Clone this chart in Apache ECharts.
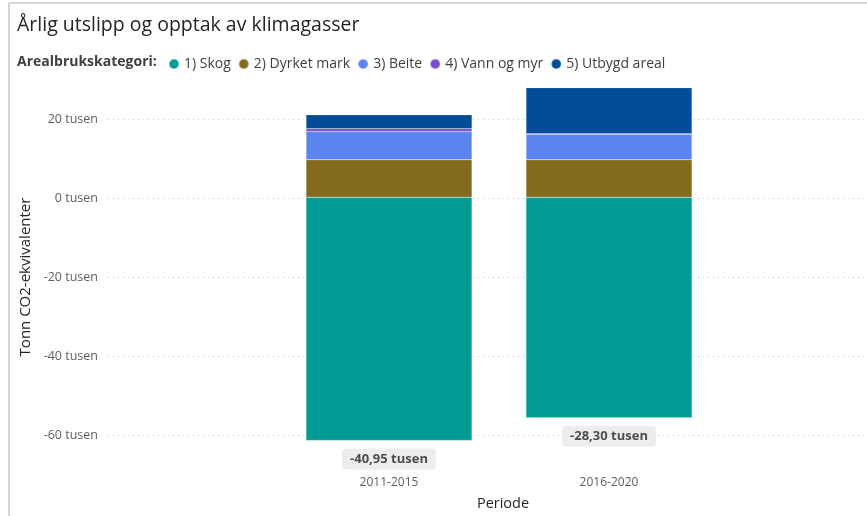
<!DOCTYPE html>
<html>
<head>
<meta charset="utf-8">
<script src="https://cdn.jsdelivr.net/npm/echarts@6/dist/echarts.min.js"></script>
<style>
  html, body { margin: 0; padding: 0; background: #fff; }
  #chart { width: 867px; height: 516px; }
</style>
</head>
<body>
<div id="chart"></div>
<script>
// verdier i tusen tonn CO2-ekvivalenter
var periods = ['2011-2015', '2016-2020'];
var skog = [-61.95, -56.2];
var dyrketMark = [9.55, 9.55];
var beite = [7.15, 6.4];
var vannOgMyr = [0.75, 0.25];
var utbygdAreal = [3.55, 11.7];
var yTicks = [-60, -40, -20, 0, 20];

var seriesNames = ['1) Skog', '2) Dyrket mark', '3) Beite', '4) Vann og myr', '5) Utbygd areal'];
var seriesData = [skog, dyrketMark, beite, vannOgMyr, utbygdAreal];
var colors = ['#019b95', '#846a1e', '#5c84ee', '#7450d0', '#024c98'];

var totals = periods.map(function (p, i) {
    return seriesData.reduce(function (s, arr) { return s + arr[i]; }, 0);
});

function fmtTusen(v) {
    return v.toFixed(2).replace('.', ',') + ' tusen';
}

var font = '"Open Sans", "Noto Sans", sans-serif';

var chart = echarts.init(document.getElementById('chart'));

var series = seriesNames.map(function (name, k) {
    return {
        name: name,
        type: 'bar',
        stack: 'total',
        xAxisIndex: 1,
        yAxisIndex: 1,
        barWidth: 166,
        itemStyle: { color: colors[k], borderColor: 'rgba(255,255,255,0.3)', borderWidth: 0.5 },
        data: seriesData[k]
    };
});

// totalsum under hver stolpe
series.push({
    name: 'total',
    type: 'scatter',
    xAxisIndex: 1,
    yAxisIndex: 1,
    symbolSize: 0,
    silent: true,
    label: {
        show: true,
        position: 'bottom',
        distance: 8,
        formatter: function (p) { return fmtTusen(totals[p.dataIndex]); },
        fontFamily: font,
        fontSize: 13,
        fontWeight: 'bold',
        color: '#252423',
        backgroundColor: '#e8e8e8',
        borderRadius: 4,
        padding: [4, 8, 4, 8]
    },
    data: skog
});

chart.setOption({
    animation: false,
    title: [
        {
            text: 'Årlig utslipp og opptak av klimagasser',
            left: 12,
            top: 10,
            textStyle: { fontFamily: font, fontSize: 19.5, fontWeight: 'normal', color: '#252423' }
        },
        {
            text: 'Arealbrukskategori:',
            left: 12,
            top: 50,
            textStyle: { fontFamily: font, fontSize: 14, fontWeight: 'bold', color: '#404040' }
        }
    ],
    legend: {
        data: seriesNames,
        left: 163,
        top: 52,
        icon: 'circle',
        itemWidth: 10,
        itemHeight: 10,
        itemGap: 7,
        textStyle: { fontFamily: font, fontSize: 14, color: '#404040' }
    },
    graphic: [
        { type: 'line', shape: { x1: 9, y1: 3, x2: 9, y2: 516 }, style: { stroke: '#d4d4d4', lineWidth: 2 } },
        { type: 'line', shape: { x1: 9, y1: 3, x2: 867, y2: 3 }, style: { stroke: '#d4d4d4', lineWidth: 2 } }
    ],
    grid: [
        { left: 108, right: 2, top: 79.5, bottom: 41.5 },
        { left: 279, right: 148, top: 79.5, bottom: 41.5 }
    ],
    xAxis: [
        { gridIndex: 0, type: 'value', show: false },
        {
            gridIndex: 1,
            type: 'category',
            data: periods,
            axisLine: { show: false },
            axisTick: { show: false },
            axisLabel: { margin: 5, fontFamily: font, fontSize: 12, color: '#605e5c' },
            name: 'Periode',
            nameLocation: 'middle',
            nameGap: 24,
            nameTextStyle: { fontFamily: font, fontSize: 14.5, color: '#252423', padding: [0, 0, 0, 8] }
        }
    ],
    yAxis: [
        {
            gridIndex: 0,
            type: 'value',
            min: -70,
            max: 30,
            axisLine: { show: false },
            axisTick: { show: false, customValues: yTicks },
            axisLabel: {
                customValues: yTicks,
                margin: 10,
                fontFamily: font,
                fontSize: 12.5,
                color: '#605e5c',
                formatter: function (v) { return v + ' tusen'; }
            },
            splitLine: { show: true, lineStyle: { color: '#c8c8c8', type: [1, 4], width: 1 } },
            name: 'Tonn CO2-ekvivalenter',
            nameLocation: 'middle',
            nameGap: 72,
            nameTextStyle: { fontFamily: font, fontSize: 15, color: '#252423' }
        },
        { gridIndex: 1, type: 'value', min: -70, max: 30, show: false }
    ],
    series: series
});
</script>
</body>
</html>
